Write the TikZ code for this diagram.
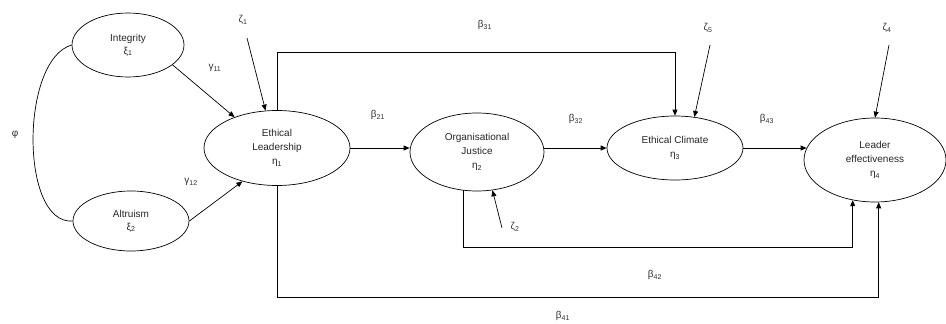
\documentclass[tikz,border=0pt]{standalone}
\usepackage{fontspec}
\setmainfont{Liberation Sans}
\usetikzlibrary{shapes.geometric,arrows.meta}
\begin{document}
\begin{tikzpicture}[x=1pt,y=-1pt,
  lv/.style={ellipse,draw,line width=0.7pt,inner sep=0pt,align=center,
    font=\fontsize{10}{14}\selectfont,text=black!85},
  arr/.style={-{Triangle[length=6pt,width=5pt]},line width=0.7pt},
  plain/.style={line width=0.7pt},
  lab/.style={font=\fontsize{10}{12}\selectfont,text=black!80,inner sep=0pt}]
\useasboundingbox (0,0) rectangle (946,324);
% latent variables
\node[lv,minimum width=112pt,minimum height=64pt] (int) at (128,45) {Integrity\\[-1pt]ξ\textsubscript{1}};
\node[lv,minimum width=116pt,minimum height=60pt] (alt) at (131,221) {Altruism\\[-1pt]ξ\textsubscript{2}};
\node[lv,minimum width=146pt,minimum height=75pt] (el) at (277,148) {Ethical\\Leadership\\η\textsubscript{1}};
\node[lv,minimum width=134pt,minimum height=78pt] (oj) at (477,152) {Organisational\\Justice\\η\textsubscript{2}};
\node[lv,minimum width=136pt,minimum height=64pt] (ec) at (675,148) {Ethical Climate\\η\textsubscript{3}};
\node[lv,minimum width=142pt,minimum height=84pt] (le) at (875,160) {Leader\\effectiveness\\η\textsubscript{4}};
% labels
\node[lab] (phi) at (15,135) {φ};
\node[lab] (g11) at (215,68) {γ\textsubscript{11}};
\node[lab] (g12) at (191,182) {γ\textsubscript{12}};
\node[lab] (z1) at (243,20) {ζ\textsubscript{1}};
\node[lab] (b21) at (378,115) {β\textsubscript{21}};
\node[lab] (b31) at (485,25) {β\textsubscript{31}};
\node[lab] (b32) at (576,119) {β\textsubscript{32}};
\node[lab] (b43) at (767,119) {β\textsubscript{43}};
\node[lab] (z5) at (708,28) {ζ\textsubscript{5}};
\node[lab] (z4) at (887,28) {ζ\textsubscript{4}};
\node[lab] (z2) at (515,227) {ζ\textsubscript{2}};
\node[lab] (b42) at (655,275) {β\textsubscript{42}};
\node[lab] (b41) at (563,316) {β\textsubscript{41}};
% disturbance starts
\coordinate (z1s) at (247,38);
\coordinate (z5s) at (710,45);
\coordinate (z4s) at (889,45);
\coordinate (z2s) at (502,228);
% correlation
\draw[plain] (int.west) .. controls (20,60) and (20,225) .. (alt.west);
% paths
\draw[arr] (int.-24) -- (el.144);
\draw[arr] (alt.0) -- (el.-136);
\draw[arr] (z1s) -- (el.107);
\draw[arr] (el.east) -- (el.east -| oj.west);
\draw[arr] (oj.east |- ec.west) -- (ec.west);
\draw[arr] (ec.east) -- ([xshift=3pt]ec.east -| le.west);
\draw[arr] (el.north) -- ++(0,-58) -| (ec.north);
\draw[arr] (z5s) -- (ec.58);
\draw[arr] (z4s) -- (le.north);
\draw[arr] (z2s) -- (oj.-68);
\draw[arr] (oj.-110) -- ++(0,57) -| (le.-119);
\draw[arr] (el.south) -- ++(0,111) -| (le.-85);
\end{tikzpicture}
\end{document}
